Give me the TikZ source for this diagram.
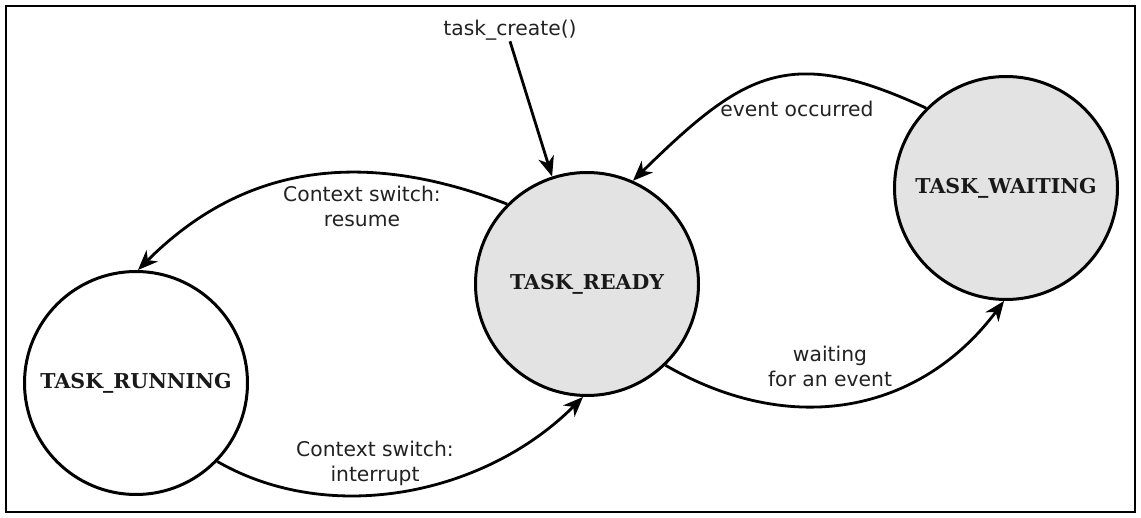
\documentclass[tikz,border=0pt]{standalone}
\usepackage{fontspec}
\setmainfont{DejaVu Sans}
\newfontfamily\statefont{DejaVu Serif}
\usetikzlibrary{arrows.meta}
\definecolor{stategray}{HTML}{E3E3E3}
\definecolor{lbltext}{HTML}{222222}
\begin{document}
\begin{tikzpicture}[x=1pt,y=-1pt,
  state/.style={circle, draw=black, line width=3pt, minimum size=223pt, inner sep=0pt,
    font=\statefont\bfseries\fontsize{20.5}{24}\selectfont, text=black!90},
  busy/.style={fill=stategray},
  lbl/.style={font=\fontsize{20.3}{25}\selectfont, text=lbltext, align=center, inner sep=1pt},
  conn/.style={line width=2.8pt, -{Stealth[length=20pt,width=16pt,inset=6pt]}}
]
\useasboundingbox (0,0) rectangle (1141,518);
\draw[line width=2.4pt] (6,6) rectangle (1135,512);

\node[state,busy] (ready) at (587,284) {TASK\_READY};
\node[state] (running) at (136,383) {TASK\_RUNNING};
\node[state,busy] (waiting) at (1006,188) {TASK\_WAITING};

\node[lbl] (create) at (510,30) {task\_create()};
\node[lbl] (resume) at (362,206) {Context switch:\\resume};
\node[lbl] (occurred) at (797,109) {event occurred};
\node[lbl] (interrupt) at (375,463) {Context switch:\\interrupt};
\node[lbl] (wait) at (830,366) {waiting\\for an event};

\draw[conn] (create.south) -- (ready.108);
\draw[conn] (ready.135) .. controls +(-160,-62) and +(95,-95) .. (running.89);
\draw[conn] (waiting.135) .. controls +(-136,-63) and +(112,-110) .. (ready.66);
\draw[conn] (running.-44) .. controls +(113,65) and +(-98,98) .. (ready.-92);
\draw[conn] (ready.-46) .. controls +(126,73) and +(-84,112) .. (waiting.-91);
\end{tikzpicture}
\end{document}
